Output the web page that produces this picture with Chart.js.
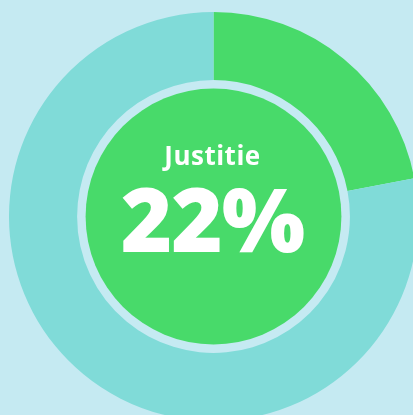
<!DOCTYPE html>
<html>
<head>
<meta charset="utf-8">
<script src="https://cdn.jsdelivr.net/npm/chart.js@4"></script>
<style>
  html, body { margin: 0; padding: 0; width: 413px; height: 415px; overflow: hidden; background: #c5eaf2; }
  #wrap { position: absolute; left: 9px; top: 12px; width: 409px; height: 409px; }
  .label { position: absolute; left: 8px; width: 409px; text-align: center; color: #fff; font-family: "Open Sans", sans-serif; }
  #title { top: 137px; font-size: 26px; font-weight: 700; letter-spacing: 0.5px; }
  #value { top: 158px; font-size: 88px; font-weight: 800; letter-spacing: -1px; }
</style>
</head>
<body>
<div id="wrap"><canvas id="donut"></canvas></div>
<div class="label" id="title"></div>
<div class="label" id="value"></div>
<script>
// data
const labels = ['Justitie', 'Overig'];
const values = [22, 78];
const colors = ['#48da6a', '#80dbd8'];
const centerColor = '#48da6a';

document.getElementById('title').textContent = labels[0];
document.getElementById('value').textContent = values[0] + '%';

// inner filled circle, drawn from the arc geometry of the chart
const centerDisc = {
    id: 'centerDisc',
    afterDatasetsDraw(chart) {
        const arc = chart.getDatasetMeta(0).data[0];
        const ctx = chart.ctx;
        ctx.save();
        ctx.beginPath();
        ctx.arc(arc.x, arc.y, arc.innerRadius - 8.5, 0, Math.PI * 2);
        ctx.fillStyle = centerColor;
        ctx.fill();
        ctx.restore();
    }
};

const ctx = document.getElementById('donut').getContext('2d');
new Chart(ctx, {
    type: 'doughnut',
    data: {
        labels: labels,
        datasets: [{
            data: values,
            backgroundColor: colors,
            borderWidth: 0
        }]
    },
    options: {
        responsive: true,
        maintainAspectRatio: false,
        animation: false,
        cutout: '66.7%',
        layout: { padding: 0 },
        plugins: {
            legend: { display: false },
            tooltip: { enabled: false }
        }
    },
    plugins: [centerDisc]
});
</script>
</body>
</html>
